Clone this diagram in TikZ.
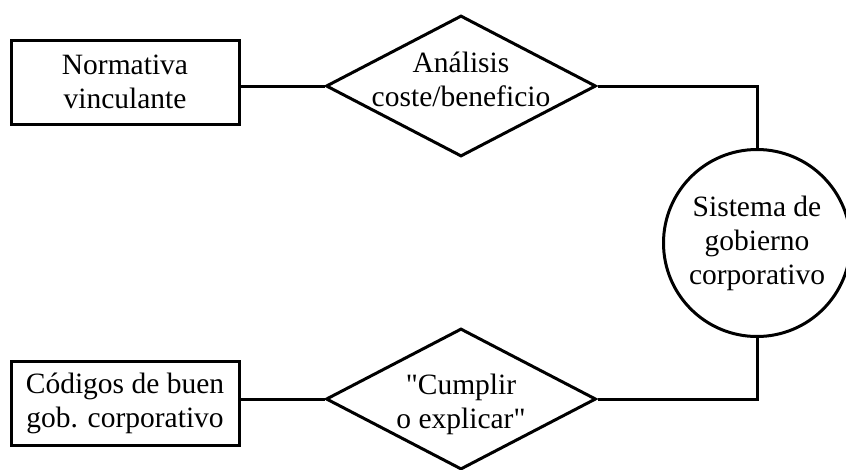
\documentclass[tikz,border=0pt]{standalone}
\usepackage{fontspec}
\setmainfont{Liberation Serif}[Ligatures=TeXOff]
\usetikzlibrary{shapes.geometric}
\begin{document}
\begin{tikzpicture}[x=1pt,y=-1pt,
  line width=3pt,
  txt/.style={align=center, font=\fontsize{29.5}{34}\selectfont, inner sep=0pt},
  box/.style={draw, rectangle, minimum width=228pt, minimum height=84pt, inner sep=0pt, txt},
  dia/.style={draw, diamond, minimum width=270pt, minimum height=141pt, inner sep=0pt},
  circ/.style={draw, circle, minimum size=187pt, inner sep=0pt, txt}]
\useasboundingbox (0,0) rectangle (846,469);
\node[box] (r1) at (125,82) {Normativa\\vinculante};
\node[box] (r2) at (125,403) {Códigos de buen\\gob. corporativo};
\node[dia] (d1) at (461,86) {};
\node[txt] (t1) at (461,79) {Análisis\\coste/beneficio};
\node[dia] (d2) at (461,399) {};
\node[txt] (t2) at (461,404) {"Cumplir\\o explicar"};
\node[circ] (c) at (757,243) {Sistema de\\gobierno\\corporativo};
\draw (d1.west) -- (d1.west -| r1.east);
\draw (d2.west) -- (d2.west -| r2.east);
\draw (d1.east) -| (c.north);
\draw (d2.east) -| (c.south);
\end{tikzpicture}
\end{document}
